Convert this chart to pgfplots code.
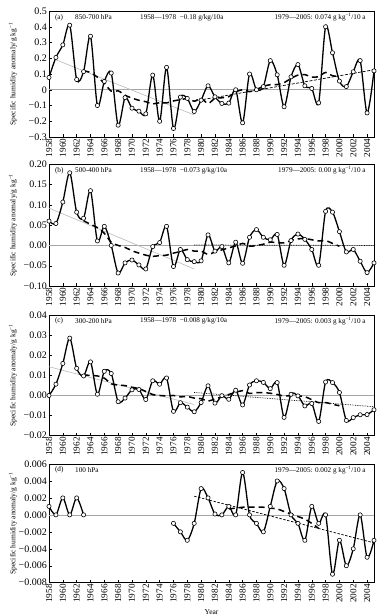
\documentclass[border=0pt]{standalone}
\usepackage{fontspec}
\setmainfont{Liberation Serif}
\usepackage{pgfplots}
\usepackage{pgfplotstable}
\pgfplotsset{compat=1.18}

\pgfplotstableread{
yr v
1958 0.078
1959 0.205
1960 0.285
1961 0.41
1962 0.065
1963 0.115
1964 0.34
1965 -0.10
1966 0.053
1967 0.106
1968 -0.225
1969 -0.05
1970 -0.117
1971 -0.136
1972 -0.153
1973 0.093
1974 -0.20
1975 0.142
1976 -0.246
1977 -0.047
1978 -0.055
1979 -0.138
1980 -0.066
1981 0.025
1982 -0.045
1983 -0.087
1984 -0.085
1985 0.0
1986 -0.21
1987 0.10
1988 0.0
1989 0.02
1990 0.185
1991 0.095
1992 -0.108
1993 0.082
1994 0.16
1995 0.025
1996 0.008
1997 -0.083
1998 0.40
1999 0.235
2000 0.055
2001 0.02
2002 0.114
2003 0.185
2004 -0.147
2005 0.12
}\dataA
\pgfplotstableread{
yr v
1963 0.121
1964 0.109
1965 0.080
1966 0.042
1967 -0.009
1968 -0.007
1969 -0.035
1970 -0.053
1971 -0.067
1972 -0.076
1973 -0.090
1974 -0.082
1975 -0.084
1976 -0.071
1977 -0.063
1978 -0.057
1979 -0.073
1980 -0.055
1981 -0.087
1982 -0.055
1983 -0.051
1984 -0.044
1985 -0.014
1986 0.000
1987 -0.012
1988 0.000
1989 0.022
1990 0.032
1991 0.033
1992 0.045
1993 0.072
1994 0.093
1995 0.096
1996 0.081
1997 0.083
1998 0.110
1999 0.089
2000 0.085
}\rmA
\pgfplotstableread{
yr v
1958 0.060
1959 0.054
1960 0.107
1961 0.179
1962 0.082
1963 0.067
1964 0.135
1965 0.011
1966 0.047
1967 0.0
1968 -0.068
1969 -0.043
1970 -0.036
1971 -0.048
1972 -0.058
1973 -0.003
1974 0.007
1975 0.047
1976 -0.052
1977 -0.010
1978 -0.035
1979 -0.040
1980 -0.038
1981 0.026
1982 -0.014
1983 -0.003
1984 -0.043
1985 0.008
1986 -0.044
1987 0.020
1988 0.039
1989 0.020
1990 0.014
1991 0.027
1992 -0.049
1993 0.012
1994 0.028
1995 0.015
1996 -0.010
1997 -0.049
1998 0.084
1999 0.082
2000 0.034
2001 -0.016
2002 -0.010
2003 -0.039
2004 -0.067
2005 -0.043
}\dataB
\pgfplotstableread{
yr v
1963 0.061
1964 0.052
1965 0.044
1966 0.030
1967 0.008
1968 0.000
1969 -0.005
1970 -0.013
1971 -0.019
1972 -0.024
1973 -0.027
1974 -0.025
1975 -0.024
1976 -0.019
1977 -0.015
1978 -0.010
1979 -0.014
1980 -0.014
1981 -0.022
1982 -0.016
1983 -0.011
1984 -0.006
1985 -0.001
1986 0.005
1987 -0.002
1988 0.000
1989 0.003
1990 0.008
1991 0.007
1992 0.006
1993 0.012
1994 0.016
1995 0.017
1996 0.014
1997 0.011
1998 0.012
1999 0.005
2000 -0.002
}\rmB
\pgfplotstableread{
yr v
1958 0.0
1959 0.0056
1960 0.0159
1961 0.0285
1962 0.0135
1963 0.0097
1964 0.0167
1965 0.0006
1966 0.0120
1967 0.0109
1968 -0.0031
1969 -0.0013
1970 0.0028
1971 0.0030
1972 -0.0020
1973 0.0073
1974 0.0056
1975 0.0087
1976 -0.0079
1977 -0.0036
1978 -0.0058
1979 -0.0081
1980 -0.0035
1981 0.0048
1982 -0.0038
1983 -0.0001
1984 -0.0019
1985 0.0026
1986 -0.0047
1987 0.0052
1988 0.0073
1989 0.0065
1990 0.0034
1991 0.0064
1992 -0.0109
1993 0.0006
1994 -0.0002
1995 -0.0052
1996 -0.0040
1997 -0.0129
1998 0.0067
1999 0.0064
2000 0.0015
2001 -0.0124
2002 -0.0110
2003 -0.0096
2004 -0.0095
2005 -0.0071
}\dataC
\pgfplotstableread{
yr v
1963 0.0101
1964 0.0100
1965 0.0097
1966 0.0086
1967 0.0058
1968 0.0052
1969 0.0049
1970 0.0041
1971 0.0034
1972 0.0020
1973 0.0004
1974 0.0000
1975 -0.0002
1976 0.0000
1977 -0.0007
1978 -0.0005
1979 -0.0013
1980 -0.0016
1981 -0.0028
1982 -0.0017
1983 -0.0007
1984 0.0005
1985 0.0015
1986 0.0024
1987 0.0010
1988 0.0014
1989 0.0014
1990 0.0011
1991 0.0005
1992 -0.0003
1993 -0.0001
1994 -0.0002
1995 -0.0006
1996 -0.0021
1997 -0.0036
1998 -0.0035
1999 -0.0044
2000 -0.0051
}\rmC
\pgfplotstableread{
yr v
1958 0.001
1959 0.0
1960 0.002
1961 0.0
1962 0.002
1963 0.0
}\dataDa
\pgfplotstableread{
yr v
1976 -0.001
1977 -0.002
1978 -0.003
1979 -0.001
1980 0.0031
1981 0.002
1982 0.0001
1983 0.0
1984 0.001
1985 0.0
1986 0.005
1987 0.0
1988 -0.001
1989 -0.002
1990 0.001
1991 0.004
1992 0.0031
1993 0.0
1994 -0.001
1995 -0.003
1996 0.001
1997 -0.001
1998 0.0
1999 -0.007
2000 -0.003
2001 -0.006
2002 -0.004
2003 0.0
2004 -0.005
2005 -0.003
}\dataDb
\pgfplotstableread{
yr v
1984 0.0007
1985 0.0008
1986 0.0009
1987 0.0009
1988 0.0009
1989 0.0009
1990 0.0008
1991 0.0007
1992 0.0004
1993 0.0001
1994 -0.0002
1995 -0.0005
1996 -0.0010
1997 -0.0016
}\rmD

\tikzset{ann/.style={font=\fontsize{7.2}{8}\selectfont, inner sep=0pt}}
\pgfplotsset{
  panel/.style={
    scale only axis, width=325pt,
    xmin=1958, xmax=2005,
    axis line style={line width=0.5pt},
    tick style={black, line width=0.4pt},
    major tick length=2.5pt,
    tick align=inside,
    xtick pos=bottom, ytick pos=left,
    scaled y ticks=false, scaled x ticks=false,
    xtick={1958,1960,...,2004},
    xticklabel style={rotate=90, anchor=east, font=\fontsize{9.2}{10}\selectfont, /pgf/number format/1000 sep={}, inner sep=1.5pt},
    yticklabel style={font=\fontsize{10}{11}\selectfont, inner sep=2pt},
    /pgf/number format/assume math mode=true,
    ylabel={Specific humidity anomaly/g kg\textsuperscript{−1}},
    ylabel style={at={(axis description cs:-0.111,0.5)}, anchor=center, font=\fontsize{7.5}{8}\selectfont},
    clip=false,
  },
  obs/.style={black, line width=1.3pt, smooth, tension=0.5, mark=*, mark size=2.1pt, mark options={fill=white, draw=black, line width=0.6pt, solid}},
  rmean/.style={black, line width=1.5pt, dash pattern=on 6pt off 4pt, smooth, no marks},
  gtrend/.style={gray!55, line width=0.6pt, no marks},
  zline/.style={gray!70, line width=0.5pt, no marks},
}

\begin{document}
\begin{tikzpicture}
\useasboundingbox (0pt,0pt) rectangle (390pt,616pt);

% (a)
\begin{axis}[panel, at={(49pt,479pt)}, anchor=south west, height=126pt,
  ymin=-0.3, ymax=0.5,
  ytick={-0.3,-0.2,-0.1,0,0.1,0.2,0.3,0.4,0.5},
  yticklabels={−0.3,−0.2,−0.1,0,0.1,0.2,0.3,0.4,0.5}]
\addplot[zline] coordinates {(1958,0) (2005,0)};
\addplot[gtrend] coordinates {(1959,0.19) (1979,-0.16)};
\addplot[black, line width=0.7pt, dash pattern=on 3pt off 1.5pt, no marks] coordinates {(1979,-0.072) (2005,0.127)};
\addplot[rmean] table[x=yr,y=v] {\rmA};
\addplot[obs] table[x=yr,y=v] {\dataA};
\node[ann, anchor=west] at (axis description cs:0.018,0.95) {(a)};
\node[ann, anchor=west] at (axis description cs:0.08,0.95) {850-700 hPa};
\node[ann, anchor=west] at (axis description cs:0.28,0.95) {1958—1978\ \ −0.18 g/kg/10a};
\node[ann, anchor=east] at (axis description cs:0.975,0.95) {1979—2005: 0.074 g kg\textsuperscript{−1}/10 a};
\end{axis}

% (b)
\begin{axis}[panel, at={(49pt,330pt)}, anchor=south west, height=121.7pt,
  ymin=-0.10, ymax=0.20,
  ytick={-0.10,-0.05,0,0.05,0.10,0.15,0.20},
  yticklabels={−0.10,−0.05,0.00,0.05,0.10,0.15,0.20}]
\addplot[zline] coordinates {(1958,0) (2005,0)};
\addplot[gtrend] coordinates {(1958,0.092) (1979,-0.058)};
\addplot[black, line width=0.7pt, densely dotted, no marks] coordinates {(1979,0.001) (2005,0.0)};
\addplot[rmean] table[x=yr,y=v] {\rmB};
\addplot[obs] table[x=yr,y=v] {\dataB};
\node[ann, anchor=west] at (axis description cs:0.018,0.95) {(b)};
\node[ann, anchor=west] at (axis description cs:0.08,0.95) {500-400 hPa};
\node[ann, anchor=west] at (axis description cs:0.28,0.95) {1958—1978\ \ −0.073 g/kg/10a};
\node[ann, anchor=east] at (axis description cs:0.975,0.95) {1979—2005: 0.00 g kg\textsuperscript{−1}/10 a};
\end{axis}

% (c)
\begin{axis}[panel, at={(49pt,180.3pt)}, anchor=south west, height=120.7pt,
  ymin=-0.02, ymax=0.04,
  ytick={-0.02,-0.01,0,0.01,0.02,0.03,0.04},
  yticklabels={−0.02,−0.01,0.00,0.01,0.02,0.03,0.04}]
\addplot[zline] coordinates {(1958,0) (2005,0)};
\addplot[gtrend] coordinates {(1958,0.0143) (1979,-0.0045)};
\addplot[black, line width=0.7pt, densely dotted, no marks] coordinates {(1979,0.0015) (2005,-0.0056)};
\addplot[rmean] table[x=yr,y=v] {\rmC};
\addplot[obs] table[x=yr,y=v] {\dataC};
\node[ann, anchor=west] at (axis description cs:0.018,0.95) {(c)};
\node[ann, anchor=west] at (axis description cs:0.08,0.95) {300-200 hPa};
\node[ann, anchor=west] at (axis description cs:0.28,0.95) {1958—1978\ \ −0.008 g/kg/10a};
\node[ann, anchor=east] at (axis description cs:0.975,0.95) {1979—2005: 0.003 g kg\textsuperscript{−1}/10 a};
\end{axis}

% (d)
\begin{axis}[panel, at={(49pt,33.3pt)}, anchor=south west, height=118.7pt,
  ymin=-0.008, ymax=0.006,
  ytick={-0.008,-0.006,-0.004,-0.002,0,0.002,0.004,0.006},
  yticklabels={−0.008,−0.006,−0.004,−0.002,0.000,0.002,0.004,0.006},
  xlabel={Year},
  xlabel style={at={(axis description cs:0.5,-0.247)}, anchor=center, font=\fontsize{7.5}{8}\selectfont}]
\addplot[zline] coordinates {(1958,0) (2005,0)};
\addplot[black, line width=0.7pt, dash pattern=on 2.5pt off 1.5pt, no marks] coordinates {(1979,0.0022) (2005,-0.0033)};
\addplot[rmean] table[x=yr,y=v] {\rmD};
\addplot[obs] table[x=yr,y=v] {\dataDa};
\addplot[obs] table[x=yr,y=v] {\dataDb};
\node[ann, anchor=west] at (axis description cs:0.018,0.95) {(d)};
\node[ann, anchor=west] at (axis description cs:0.08,0.95) {100 hPa};
\node[ann, anchor=east] at (axis description cs:0.975,0.95) {1979—2005: 0.002 g kg\textsuperscript{−1}/10 a};
\end{axis}
\end{tikzpicture}
\end{document}
